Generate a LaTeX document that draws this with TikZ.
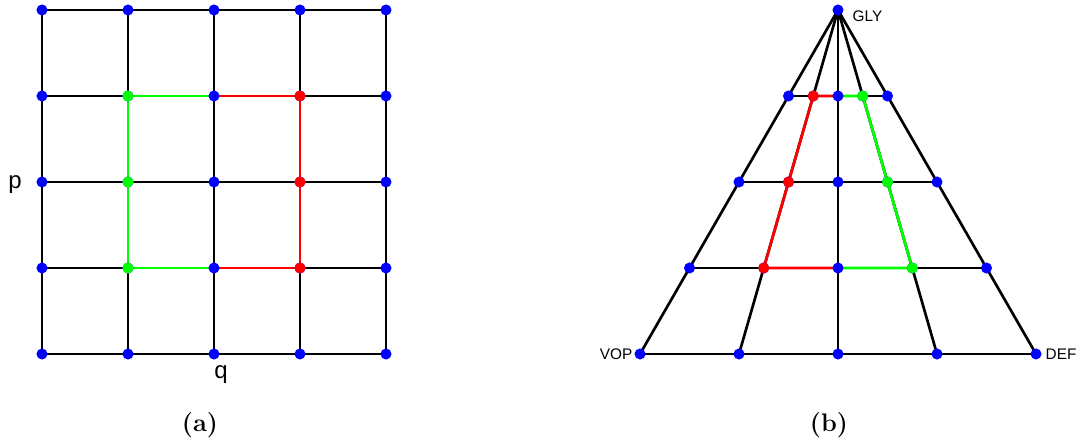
\documentclass[tikz,border=0pt]{standalone}
\usepackage{fontspec}
\newfontfamily\labelfont{Liberation Sans}
\begin{document}
\begin{tikzpicture}[x=0.75pt,y=-0.75pt,
  edge/.style={line width=2pt,black},
  redge/.style={line width=2pt,red},
  gedge/.style={line width=2pt,green},
  bdot/.style={circle,fill=blue,inner sep=0pt,minimum size=8.3pt},
  rdot/.style={circle,fill=red,inner sep=0pt,minimum size=8.3pt},
  gdot/.style={circle,fill=green,inner sep=0pt,minimum size=8.3pt},
  axlab/.style={font=\labelfont\fontsize{18}{20}\selectfont},
  vlab/.style={font=\labelfont\fontsize{11.5}{13}\selectfont},
  caption/.style={font=\bfseries\fontsize{19}{21}\selectfont}]
\useasboundingbox (0,0) rectangle (1076,445);
% ---------- (a) grid ----------
\foreach \i in {0,...,4}{
  \foreach \j in {0,...,4}{
    \coordinate (g\i\j) at ({42+86*\i},{10+86*\j});
  }
}
\foreach \i in {0,...,4}{
  \draw[edge] (g\i0) -- (g\i4);
  \draw[edge] (g0\i) -- (g4\i);
}
\draw[gedge] (g21) -- (g11) -- (g13) -- (g23);
\draw[redge] (g21) -- (g31) -- (g33) -- (g23);
\foreach \i in {0,...,4}{
  \foreach \j in {0,...,4}{
    \node[bdot] at (g\i\j) {};
  }
}
\foreach \j in {1,2,3}{
  \node[gdot] at (g1\j) {};
  \node[rdot] at (g3\j) {};
}
\node[axlab] (p) at (15,185) {p};
\node[axlab] (q) at (221,375) {q};
\node[caption] (capa) at (200,425) {(a)};
% ---------- (b) triangle ----------
\coordinate (top) at (838,10);
\foreach \k in {1,...,4}{
  \foreach \m [count=\c from 0] in {-1,-0.5,0,0.5,1}{
    \coordinate (t\k\c) at ({838+\m*49.5*\k},{10+86*\k});
  }
}
\foreach \c in {0,...,4}{
  \draw[edge] (top) -- (t4\c);
}
\foreach \k in {1,...,4}{
  \draw[edge] (t\k0) -- (t\k4);
}
\draw[redge] (t12) -- (t11) -- (t21) -- (t31) -- (t32);
\draw[gedge] (t12) -- (t13) -- (t23) -- (t33) -- (t32);
\node[bdot] (apex) at (top) {};
\foreach \k in {1,...,4}{
  \foreach \c in {0,...,4}{
    \node[bdot] at (t\k\c) {};
  }
}
\node[rdot] at (t11) {};
\node[rdot] at (t21) {};
\node[rdot] at (t31) {};
\node[gdot] at (t13) {};
\node[gdot] at (t23) {};
\node[gdot] at (t33) {};
\node[vlab,anchor=west] (gly) at (848,16) {GLY};
\node[vlab,anchor=east] (vop) at (637,354) {VOP};
\node[vlab,anchor=west] (def) at (1041,354) {DEF};
\node[caption] (capb) at (829,425) {(b)};
\end{tikzpicture}
\end{document}
